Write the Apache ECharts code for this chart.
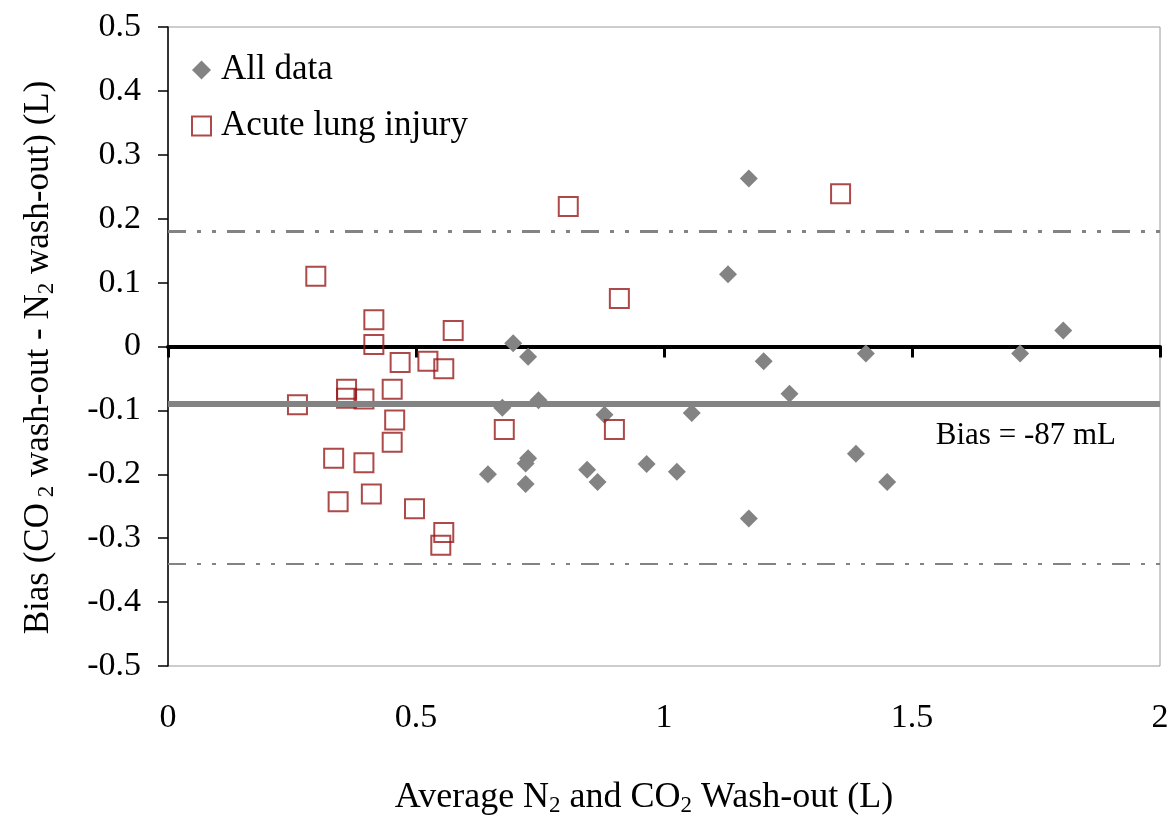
<!DOCTYPE html>
<html>
<head>
<meta charset="utf-8">
<title>Bland-Altman: CO2 vs N2 wash-out</title>
<script src="https://cdn.jsdelivr.net/npm/echarts@6/dist/echarts.min.js"></script>
<style>
  html, body { margin: 0; padding: 0; background: #ffffff; }
  #chart { width: 1176px; height: 823px; }
</style>
</head>
<body>
<div id="chart"></div>
<script>
// Average of the two wash-out volumes (L) and their difference (L)
const allDataX = [0.696, 0.726, 0.747, 0.674, 0.880, 0.645, 0.726, 0.721, 0.721, 0.845, 0.866, 0.965,
                  1.171, 1.129, 1.805, 1.201, 1.407, 1.718, 1.253, 1.056, 1.026, 1.387, 1.450, 1.171];
const allDataY = [0.005, -0.016, -0.084, -0.096, -0.107, -0.200, -0.175, -0.183, -0.215, -0.193, -0.212, -0.184,
                  0.263, 0.113, 0.025, -0.023, -0.011, -0.011, -0.074, -0.104, -0.196, -0.168, -0.212, -0.269];

const aliX = [0.298, 0.807, 1.356, 0.910, 0.415, 0.415, 0.575, 0.468, 0.524, 0.556, 0.360, 0.360, 0.395,
              0.452, 0.261, 0.457, 0.452, 0.678, 0.900, 0.334, 0.395, 0.343, 0.410, 0.497, 0.556, 0.550];
const aliY = [0.110, 0.219, 0.239, 0.075, 0.042, 0.003, 0.025, -0.025, -0.023, -0.035, -0.067, -0.081, -0.082,
              -0.067, -0.091, -0.115, -0.150, -0.130, -0.130, -0.175, -0.182, -0.243, -0.231, -0.254, -0.291, -0.311];

// Mean difference and limits of agreement (L)
const BIAS = -0.087;
const UPPER_LIMIT = 0.176;
const LOWER_LIMIT = -0.342;

const xTicks = [0, 0.5, 1, 1.5, 2];
const yTicks = [-0.5, -0.4, -0.3, -0.2, -0.1, 0, 0.1, 0.2, 0.3, 0.4, 0.5];

const seriesNames = ['All data', 'Acute lung injury'];

const FONT = '"Liberation Serif", "Times New Roman", serif';
const GREY = '#838383';
const RED = '#991c1c';

const zip = (xs, ys) => xs.map((x, i) => [x, ys[i]]);
const dashDotDot = [18, 11, 4, 11, 4, 11];

const chart = echarts.init(document.getElementById('chart'), null, { renderer: 'canvas' });

chart.setOption({
  backgroundColor: '#ffffff',
  animation: false,
  textStyle: { fontFamily: FONT },
  grid: {
    left: 168, right: 16, top: 27, bottom: 157,
    show: true, borderColor: '#9a9a9a', borderWidth: 1, backgroundColor: 'transparent'
  },
  legend: {
    orient: 'vertical',
    left: 186, top: 46,
    itemWidth: 19, itemHeight: 19,
    itemGap: 18,
    selectedMode: false,
    textStyle: { fontFamily: FONT, fontSize: 35, color: '#000', lineHeight: 38, padding: [0, 0, 0, 5] },
    data: seriesNames
  },
  xAxis: [
    {
      // tick labels and title along the bottom of the frame
      type: 'value', position: 'bottom',
      min: xTicks[0], max: xTicks[xTicks.length - 1], interval: 0.5,
      axisLine: { show: false, onZero: false },
      axisTick: { show: false },
      splitLine: { show: false },
      axisLabel: { margin: 35, fontSize: 34, color: '#000', fontFamily: FONT },
      name: 'Average N{s|2} and CO{s|2} Wash-out (L)',
      nameLocation: 'middle', nameGap: 113,
      nameTextStyle: {
        fontSize: 36, color: '#000', fontFamily: FONT, padding: [0, 40, 0, 0],
        rich: { s: { fontSize: 23, fontFamily: FONT, color: '#000', padding: [15, 0, 0, 0] } }
      }
    },
    {
      // heavy zero line with its ticks
      type: 'value', position: 'top',
      min: xTicks[0], max: xTicks[xTicks.length - 1], interval: 0.5,
      axisLine: { show: true, onZero: true, lineStyle: { color: '#000', width: 4 } },
      axisTick: { show: true, inside: true, length: 11, lineStyle: { color: '#000', width: 3 } },
      axisLabel: { show: false },
      splitLine: { show: false }
    }
  ],
  yAxis: {
    type: 'value',
    min: yTicks[0], max: yTicks[yTicks.length - 1], interval: 0.1,
    axisLine: { show: true, onZero: false, lineStyle: { color: '#000', width: 1.5 } },
    axisTick: { show: true, length: 10, lineStyle: { color: '#000', width: 1.5 } },
    splitLine: { show: false },
    axisLabel: {
      margin: 27, fontSize: 34, color: '#000', fontFamily: FONT,
      formatter: v => (Math.abs(v) < 1e-9 ? '0' : v.toFixed(1))
    },
    name: 'Bias (CO{s| 2} wash-out - N{s|2} wash-out) (L)',
    nameLocation: 'middle', nameGap: 110, nameRotate: 90,
    nameTextStyle: {
      fontSize: 35, color: '#000', fontFamily: FONT, padding: [0, 22, 0, 0],
      rich: { s: { fontSize: 23, fontFamily: FONT, color: '#000', padding: [15, 0, 0, 0] } }
    }
  },
  series: [
    {
      name: seriesNames[0],
      type: 'scatter',
      symbol: 'diamond',
      symbolSize: 18,
      itemStyle: { color: GREY, opacity: 1 },
      data: zip(allDataX, allDataY),
      z: 3,
      markLine: {
        silent: true,
        symbol: 'none',
        animation: false,
        data: [
          { yAxis: BIAS, lineStyle: { color: GREY, width: 6, type: 'solid' },
            label: {
              show: true, position: 'insideEndBottom', distance: [44, 16],
              formatter: 'Bias = ' + Math.round(BIAS * 1000) + ' mL',
              fontFamily: FONT, fontSize: 31, color: '#000'
            } },
          { yAxis: UPPER_LIMIT, lineStyle: { color: GREY, width: 3, type: dashDotDot }, label: { show: false } },
          { yAxis: LOWER_LIMIT, lineStyle: { color: GREY, width: 2, type: dashDotDot }, label: { show: false } }
        ]
      }
    },
    {
      name: seriesNames[1],
      type: 'scatter',
      symbol: 'rect',
      symbolSize: 19,
      itemStyle: { color: 'rgba(255,255,255,0)', borderColor: RED, borderWidth: 2 },
      data: zip(aliX, aliY),
      z: 4
    }
  ]
});
</script>
</body>
</html>
